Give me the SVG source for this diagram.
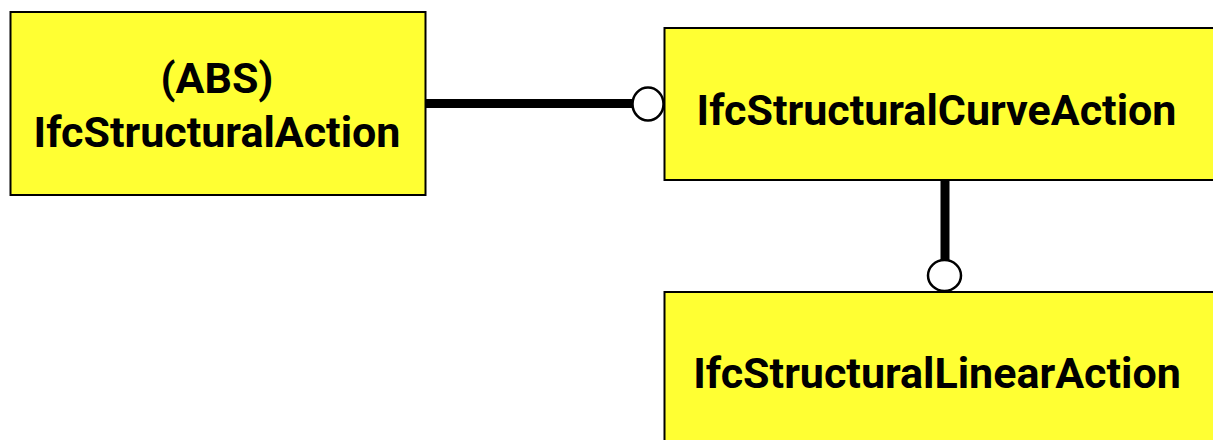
<svg xmlns="http://www.w3.org/2000/svg" width="1213" height="440" viewBox="0 0 1213 440">
<style>
.box{fill:#ffff33;stroke:#000;stroke-width:2}
.lbl{font-family:Roboto,"Liberation Sans",sans-serif;font-weight:bold;font-size:43px;fill:#000;text-anchor:middle}
.ln{stroke:#000;stroke-width:9;fill:none}
.end{fill:#fff;stroke:#000;stroke-width:2.5}
</style>
<rect width="1213" height="440" fill="#fff"/>
<g id="connectors">
<line class="ln" x1="426" y1="103.5" x2="633" y2="103.5"/>
<ellipse class="end" cx="648" cy="104" rx="15.5" ry="16.5"/>
<line class="ln" x1="945" y1="180" x2="945" y2="260"/>
<ellipse class="end" cx="944.5" cy="275.5" rx="16.5" ry="15.5"/>
</g>
<g id="IfcStructuralAction">
<rect class="box" x="10.5" y="12" width="415" height="183"/>
<text class="lbl" x="217" y="93">(ABS)</text>
<text class="lbl" x="217" y="147">IfcStructuralAction</text>
</g>
<g id="IfcStructuralCurveAction">
<rect class="box" x="664.5" y="28" width="570" height="152"/>
<text class="lbl" x="936.5" y="125">IfcStructuralCurveAction</text>
</g>
<g id="IfcStructuralLinearAction">
<rect class="box" x="664.5" y="292" width="570" height="170"/>
<text class="lbl" x="937" y="388">IfcStructuralLinearAction</text>
</g>
</svg>
